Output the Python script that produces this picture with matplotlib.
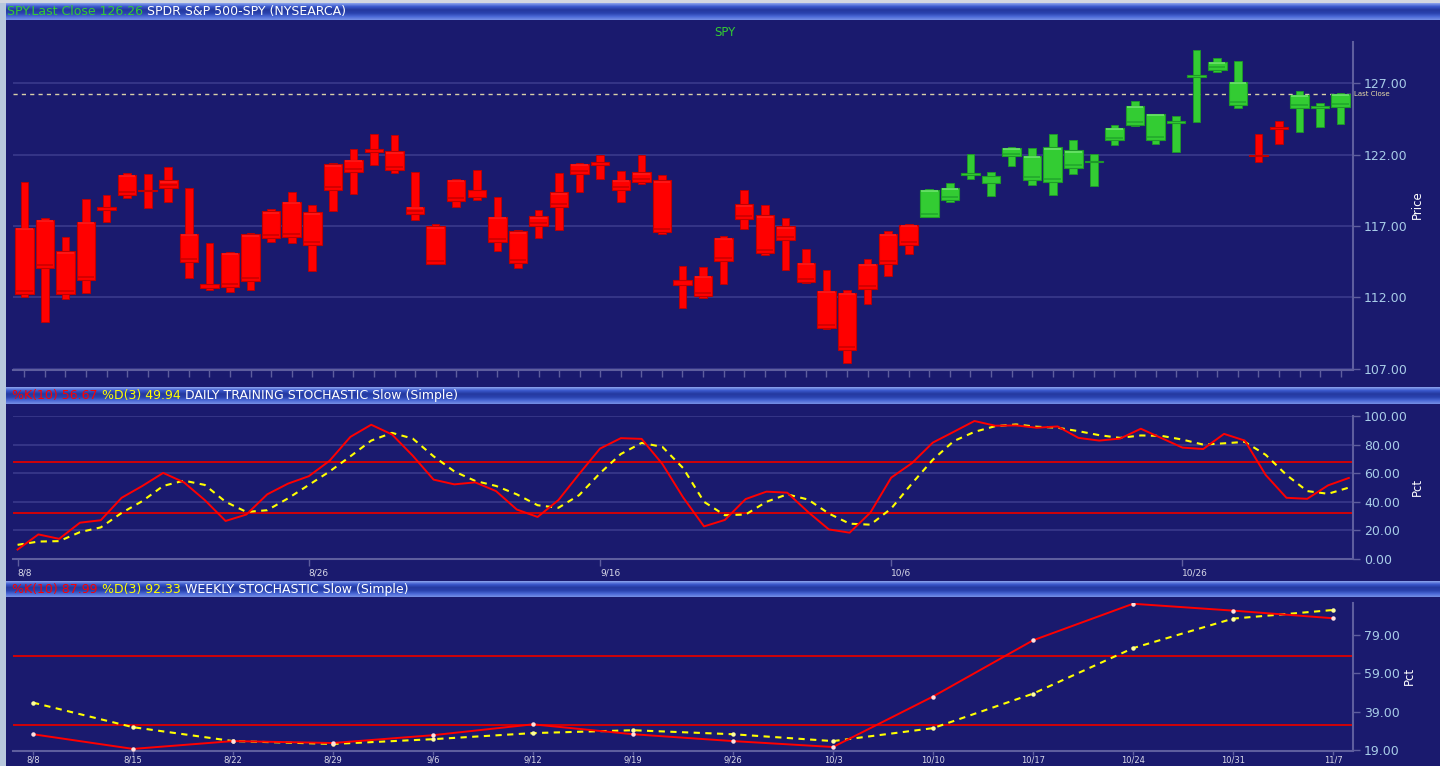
"""SPY daily candles with daily and weekly slow stochastic panels."""

import matplotlib.pyplot as plt
import numpy as np
from matplotlib.colors import LinearSegmentedColormap

W, H = 1440, 766
BG = "#1a1a6e"
GRID = "#3a3a8c"
AXIS = "#5e5e9e"
TICK_TXT = "#a8cce8"
RED = "#ff0000"
GREEN = "#33cc33"

# daily candles 8/8 .. 11/7 (body_hi / body_lo = upper / lower edge of body)
high = [120.08, 117.58, 116.20, 118.87, 119.15, 120.71, 120.64, 121.13, 119.64, 115.83,
        115.17, 116.50, 118.16, 119.36, 118.44, 121.39, 122.37, 123.47, 123.35, 120.81,
        117.11, 120.29, 120.90, 119.00, 116.69, 118.14, 120.74, 121.44, 121.95, 120.88,
        121.95, 120.55, 114.17, 114.12, 116.32, 119.50, 118.44, 117.56, 115.40, 113.89,
        112.53, 114.66, 116.62, 117.16, 119.57, 119.99, 122.07, 120.78, 122.53, 122.49,
        123.42, 123.00, 122.02, 124.05, 125.74, 124.87, 124.71, 129.36, 128.80, 128.57,
        123.42, 124.33, 126.44, 125.64, 126.32]
body_hi = [116.86, 117.44, 115.22, 117.28, 118.33, 120.60, 119.54, 120.20, 116.46, 112.90,
           115.13, 116.41, 118.02, 118.70, 117.95, 121.32, 121.65, 122.37, 122.23, 118.35,
           116.97, 120.24, 119.50, 117.63, 116.64, 117.67, 119.36, 121.37, 121.46, 120.24,
           120.76, 120.20, 113.18, 113.49, 116.18, 118.51, 117.74, 116.99, 114.40, 112.44,
           112.32, 114.35, 116.46, 117.09, 119.54, 119.66, 120.67, 120.48, 122.49, 121.93,
           122.53, 122.32, 121.55, 123.89, 125.43, 124.85, 124.33, 127.55, 128.52, 127.12,
           121.97, 123.88, 126.20, 125.36, 126.26]
body_lo = [112.25, 114.07, 112.25, 113.23, 118.09, 119.15, 119.43, 119.66, 114.49, 112.62,
           112.72, 113.14, 116.15, 116.22, 115.66, 119.54, 120.81, 122.21, 120.90, 117.84,
           114.35, 118.75, 119.03, 115.87, 114.40, 116.99, 118.33, 120.64, 121.27, 119.50,
           120.08, 116.57, 112.83, 112.09, 114.54, 117.49, 115.10, 116.04, 113.07, 109.87,
           108.32, 112.60, 114.35, 115.69, 117.63, 118.80, 120.57, 120.01, 121.88, 120.20,
           120.10, 121.09, 121.46, 123.00, 124.10, 123.05, 124.25, 127.47, 127.96, 125.46,
           121.89, 123.80, 125.27, 125.28, 125.34]
low = [112.02, 110.26, 111.90, 112.30, 117.28, 118.98, 118.28, 118.70, 113.37, 112.48,
       112.37, 112.53, 115.90, 115.83, 113.82, 118.02, 119.24, 121.27, 120.71, 117.39,
       114.35, 118.33, 118.80, 115.24, 114.03, 116.18, 116.69, 119.36, 120.29, 118.68,
       119.96, 116.41, 111.24, 111.97, 112.95, 116.79, 114.94, 113.89, 113.02, 109.75,
       107.41, 111.55, 113.49, 115.03, 117.63, 118.70, 120.29, 119.08, 121.18, 119.89,
       119.15, 120.67, 119.78, 122.70, 124.01, 122.72, 122.18, 124.29, 127.77, 125.29,
       121.48, 122.74, 123.56, 123.94, 124.17]
candle_col = list("r" * 44 + "g" * 16 + "rr" + "ggg")
last_close = 126.26

price_ticks = [107.0, 112.0, 117.0, 122.0, 127.0]

# daily slow stochastic
daily_k = [6.6, 17.2, 14.1, 25.4, 27.1, 42.8, 51.1, 60.2, 53.6, 41.2,
           26.6, 31.1, 45.2, 52.7, 57.9, 68.7, 85.4, 93.9, 87.1, 72.2,
           55.5, 52.2, 53.6, 47.5, 34.6, 29.4, 41.2, 59.5, 77.2, 84.5,
           84.0, 66.4, 43.0, 22.8, 27.3, 41.9, 47.1, 46.4, 32.9, 20.7,
           18.4, 32.5, 56.9, 67.1, 81.4, 88.9, 96.5, 93.2, 93.4, 91.8,
           92.7, 84.7, 82.8, 84.2, 91.1, 84.5, 77.9, 76.9, 87.5, 82.8,
           58.8, 42.8, 42.1, 51.5, 56.67]
daily_d = [9.9, 12.2, 12.5, 18.8, 22.1, 32.2, 40.5, 51.1, 54.8, 51.8,
           40.0, 32.9, 34.1, 42.4, 51.8, 61.2, 71.8, 82.8, 88.2, 84.2,
           71.8, 61.2, 54.6, 51.1, 45.2, 37.6, 35.8, 44.7, 60.0, 73.4,
           81.2, 78.4, 63.5, 40.0, 30.6, 31.1, 40.0, 45.2, 41.6, 31.8,
           24.7, 24.0, 35.3, 52.9, 69.4, 82.4, 88.9, 92.9, 94.1, 92.5,
           91.8, 89.4, 86.6, 84.7, 86.4, 86.1, 83.5, 80.0, 80.9, 81.9,
           72.9, 58.8, 47.5, 45.6, 49.94]
daily_tick_pos = [0, 14, 28, 42, 56]
daily_tick_lbl = ["8/8", "8/26", "9/16", "10/6", "10/26"]
daily_yticks = [0, 20, 40, 60, 80, 100]

# weekly slow stochastic
weeks = ["8/8", "8/15", "8/22", "8/29", "9/6", "9/12", "9/19", "9/26",
         "10/3", "10/10", "10/17", "10/24", "10/31", "11/7"]
weekly_k = [27.1, 19.4, 23.5, 22.5, 26.6, 32.3, 27.1, 23.5, 20.4, 46.9, 76.4, 95.6, 92.0, 87.99]
weekly_d = [43.7, 30.8, 23.5, 22.0, 24.5, 27.7, 29.2, 27.1, 23.5, 30.3, 48.4, 72.3, 87.8, 92.33]
weekly_yticks = [19, 39, 59, 79]

levels = [32, 68]


def px_axes(fig, x0, y0, x1, y1):
    # pixel box (top-left origin) -> figure axes
    return fig.add_axes([x0 / W, 1 - y1 / H, (x1 - x0) / W, (y1 - y0) / H])


def header_bar(fig, y0, y1, parts, x_text):
    ax = px_axes(fig, 6, y0, W, y1)
    cmap = LinearSegmentedColormap.from_list(
        "bar", ["#8ea6ee", "#3a58cc", "#24399f", "#2a42ae", "#4a68d6", "#7690e6"])
    ax.imshow(np.linspace(0, 1, 64).reshape(-1, 1), aspect="auto", cmap=cmap,
              extent=(0, W, 0, 1), origin="upper")
    ax.set_xlim(0, W)
    ax.set_ylim(0, 1)
    ax.axis("off")
    prev = None
    for txt, col in parts:
        if prev is None:
            prev = ax.text(x_text, 0.5, txt, color=col, fontsize=9.0,
                           va="center", ha="left")
        else:
            prev = ax.annotate(txt, xy=(1, 0), xycoords=prev, xytext=(3, 0),
                               textcoords="offset points", color=col,
                               fontsize=9.0, va="bottom", ha="left")
    return ax


def style_axes(ax):
    ax.set_facecolor(BG)
    for side in ("top", "left"):
        ax.spines[side].set_visible(False)
    for side in ("right", "bottom"):
        ax.spines[side].set_color(AXIS)
        ax.spines[side].set_linewidth(1.5)
    ax.yaxis.tick_right()
    ax.tick_params(axis="y", colors=AXIS, labelcolor=TICK_TXT, length=5,
                   width=1, pad=3, labelsize=9)
    ax.tick_params(axis="x", colors=AXIS, labelcolor="#d8d8e8", length=5,
                   width=1, labelsize=6.5, pad=2)


fig = plt.figure(figsize=(W / 100, H / 100), dpi=100)
fig.patch.set_facecolor(BG)

# window border strips
border = px_axes(fig, 0, 0, 6, H)
border.set_facecolor("#b8c8dc")
border.set_xticks([])
border.set_yticks([])
for s in border.spines.values():
    s.set_visible(False)
topline = px_axes(fig, 0, 0, W, 3)
topline.axis("off")
topline.add_patch(plt.Rectangle((0, 0), 1, 1, color="#d4d8e0", transform=topline.transAxes))

header_bar(fig, 3, 20, [("SPY.Last Close 126.26", GREEN),
                        ("SPDR S&P 500-SPY (NYSEARCA)", "white")], 1)
header_bar(fig, 387, 404, [("%K(10) 56.67", RED), ("%D(3) 49.94", "#ffff00"),
                           ("DAILY TRAINING STOCHASTIC Slow (Simple)", "white")], 6)
header_bar(fig, 581, 597, [("%K(10) 87.99", RED), ("%D(3) 92.33", "#ffff00"),
                           ("WEEKLY STOCHASTIC Slow (Simple)", "white")], 6)

# ---- price panel
ax = px_axes(fig, 13, 42, 1353, 370)
style_axes(ax)
x = np.arange(len(high))
face = [RED if c == "r" else GREEN for c in candle_col]
edge = ["#c00000" if c == "r" else "#1e9a28" for c in candle_col]
shade = ["#cc0000" if c == "r" else "#22a82c" for c in candle_col]
hi_lite = ["#ff1a1a" if c == "r" else "#6ce46c" for c in candle_col]

ax.bar(x, np.subtract(high, low), bottom=low, width=0.37, color=face,
       edgecolor=edge, linewidth=0.6, zorder=3)
body_h = np.maximum(np.subtract(body_hi, body_lo), 0.12)
ax.bar(x, body_h, bottom=body_lo, width=0.9, color=face, edgecolor=edge,
       linewidth=0.8, zorder=4)
big = body_h > 0.5
ax.hlines(np.array(body_lo)[big] + 0.2, x[big] - 0.4, x[big] + 0.4,
          colors=np.array(shade)[big], linewidth=1.2, zorder=5)
ax.hlines(np.array(body_hi)[big] - 0.1, x[big] - 0.4, x[big] + 0.4,
          colors=np.array(hi_lite)[big], linewidth=1.2, zorder=5)

ax.axhline(last_close, color="#d8d0a8", linewidth=1, linestyle=(0, (3, 3)), zorder=2)
ax.text(1.001, last_close, "Last Close", transform=ax.get_yaxis_transform(),
        color="#e8dca8", fontsize=5, va="center", ha="left")
ax.set_yticks(price_ticks, [f"{v:.2f}" for v in price_ticks])
ax.yaxis.grid(True, color=GRID, linewidth=1.2)
ax.set_axisbelow(True)
ax.set_xticks(x, [""] * len(x))
ax.set_xlim(-0.55, 64.6)
ax.set_ylim(106.9, 129.9)
fig.text(725 / W, 1 - 33 / H, "SPY", color=GREEN, fontsize=8.5, ha="center", va="center")
fig.text(1417 / W, 1 - 205 / H, "Price", color="white", fontsize=8.5, rotation=90,
         ha="center", va="center")

# ---- daily stochastic
ax2 = px_axes(fig, 13, 416, 1353, 559)
style_axes(ax2)
xd = np.arange(len(daily_k))
for lv in levels:
    ax2.axhline(lv, color="#e00000", linewidth=1.3, zorder=2)
ax2.plot(xd, daily_d, color="#ffff00", linewidth=1.5, dashes=(3, 2.6), zorder=3)
ax2.plot(xd, daily_k, color=RED, linewidth=1.4, zorder=4)
ax2.set_yticks(daily_yticks, [f"{v:.2f}" for v in daily_yticks])
ax2.yaxis.grid(True, color=GRID, linewidth=1.2)
ax2.set_axisbelow(True)
ax2.set_xticks(daily_tick_pos, daily_tick_lbl, ha="left")
ax2.set_xlim(-0.22, 64.2)
ax2.set_ylim(0, 100)
fig.text(1417 / W, 1 - 487 / H, "Pct", color="white", fontsize=8.5, rotation=90,
         ha="center", va="center")

# ---- weekly stochastic
ax3 = px_axes(fig, 13, 603, 1353, 751)
style_axes(ax3)
ax3.tick_params(axis="x", length=3, pad=0.5, labelsize=6)
xw = np.arange(len(weeks))
for lv in levels:
    ax3.axhline(lv, color="#e00000", linewidth=1.3, zorder=2)
ax3.plot(xw, weekly_d, color="#ffff00", linewidth=1.5, dashes=(3, 2.6), zorder=3)
ax3.plot(xw, weekly_d, linestyle="none", marker="o", markersize=2.2,
         color="#ffffa0", zorder=3)
ax3.plot(xw, weekly_k, color=RED, linewidth=1.4, zorder=4)
ax3.plot(xw, weekly_k, linestyle="none", marker="o", markersize=2.2,
         color="#ffe0e0", zorder=5)
ax3.set_yticks(weekly_yticks, [f"{v:.2f}" for v in weekly_yticks])
ax3.set_xticks(xw, weeks)
ax3.set_xlim(-0.2, 13.2)
ax3.set_ylim(18.3, 96)
fig.text(1409 / W, 1 - 676 / H, "Pct", color="white", fontsize=8.5, rotation=90,
         ha="center", va="center")

plt.savefig("out.png", dpi=100, facecolor=BG)
